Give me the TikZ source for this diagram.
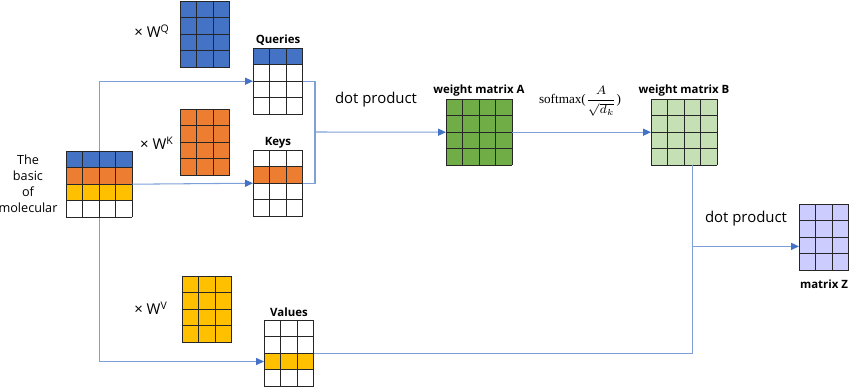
\documentclass[tikz,border=0pt]{standalone}
\usepackage{fontspec}
\setmainfont{Open Sans}
\newfontfamily\mserif{Liberation Serif}
\usetikzlibrary{arrows.meta,calc,backgrounds}
\definecolor{mblue}{HTML}{4472C4}
\definecolor{morange}{HTML}{ED7D31}
\definecolor{myellow}{HTML}{FFC000}
\definecolor{mgreen}{HTML}{70AD47}
\definecolor{mlgreen}{HTML}{C5E0B4}
\definecolor{mlav}{HTML}{CCCCFF}
\definecolor{lineblue}{HTML}{7F9FD8}
\def\cw{0.332cm}
\newcommand\gridmat[6]{%
  \node[inner sep=0,outer sep=0,minimum width=#4*\cw,minimum height=#5*\cw,anchor=north west] (#1) at (#2,#3) {};
  \begin{scope}[shift={(#1.north west)},x=\cw,y=-\cw]
    \foreach \c [count=\i from 0] in {#6} {\fill[\c] (0,\i) rectangle (#4,\i+1);}
    \foreach \k in {0,...,#4} {\draw[gl] (\k,0) -- (\k,#5);}
    \foreach \k in {0,...,#5} {\draw[gl] (0,\k) -- (#4,\k);}
  \end{scope}}
\begin{document}
\begin{tikzpicture}[x=0.02cm,y=-0.02cm,
  conn/.style={draw=lineblue,line width=0.6pt},
  arr/.style={conn,-{Triangle[length=4.5pt,width=4pt,color=mblue]}},
  gl/.style={line width=0.5pt,draw=black!85},
  lbl/.style={font=\fontsize{6.5}{7}\selectfont\bfseries,inner sep=0},
  txt/.style={font=\fontsize{8.5}{10}\selectfont,inner sep=0},
  wtxt/.style={font=\fontsize{8.5}{10}\selectfont,inner sep=0}]
\useasboundingbox (0,0) rectangle (850,387);

% matrices
\gridmat{in}{66}{151}{4}{4}{mblue,morange,myellow,white}
\gridmat{WQ}{180}{1}{3}{4}{mblue,mblue,mblue,mblue}
\gridmat{WK}{180}{109}{3}{4}{morange,morange,morange,morange}
\gridmat{WV}{182}{276}{3}{4}{myellow,myellow,myellow,myellow}
\gridmat{Q}{253}{48}{3}{4}{mblue,white,white,white}
\gridmat{K}{253}{150}{3}{4}{white,morange,white,white}
\gridmat{V}{264}{320}{3}{4}{white,white,myellow,white}
\gridmat{A}{446}{99}{4}{4}{mgreen,mgreen,mgreen,mgreen}
\gridmat{B}{651}{99}{4}{4}{mlgreen,mlgreen,mlgreen,mlgreen}
\gridmat{Z}{799}{204}{3}{4}{mlav,mlav,mlav,mlav}

% labels
\node[wtxt] (lq) at (152,31) {× W\textsuperscript{Q}};
\node[wtxt] (lk) at (157,143) {× W\textsuperscript{K}};
\node[wtxt] (lv) at (151,308) {× W\textsuperscript{V}};
\node[lbl] (tq) at (278,40) {Queries};
\node[lbl] (tk) at (278,143) {Keys};
\node[lbl] (tv) at (289,312) {Values};
\node[lbl] (ta) at (479,91) {weight matrix A};
\node[lbl] (tb) at (684,91) {weight matrix B};
\node[lbl] (tz) at (824,284) {matrix Z};
\node[txt] (dp1) at (376,100) {dot product};
\node[txt] (dp2) at (746,219) {dot product};
\node[inner sep=0,font=\fontsize{7.5}{8}\selectfont] (sm) at (580,101) {{\mserif softmax(}$\displaystyle\frac{A}{\sqrt{d_k}}${\mserif )}};
\node[inner sep=0,align=center,font=\fontsize{7.2}{9.2}\selectfont] (mol) at (28,184) {The\\basic\\of\\molecular};

% connectors
\coordinate (j1) at (315,132);
\coordinate (vin) at ($(V.west)+(0,8.3)$);
\coordinate (bz) at ($(B.south)+(8.3,0)$);
\coordinate (j2) at ($(B.south)+(8.3,81)$);
\begin{pgfonlayer}{background}
\draw[arr] (in.center) |- (Q.west);
\draw[arr] (in.center) |- (vin);
\end{pgfonlayer}
\draw[arr] (in.east) -- (K.west);
\draw[conn] (Q.east) -| (j1) |- (K.east);
\draw[arr] (j1) -- (A.west);
\draw[arr] (A.east) -- (B.west);
\draw[conn] (V.east) -| (bz);
\draw[arr] (j2) -- (j2 -| Z.west);
\end{tikzpicture}
\end{document}
